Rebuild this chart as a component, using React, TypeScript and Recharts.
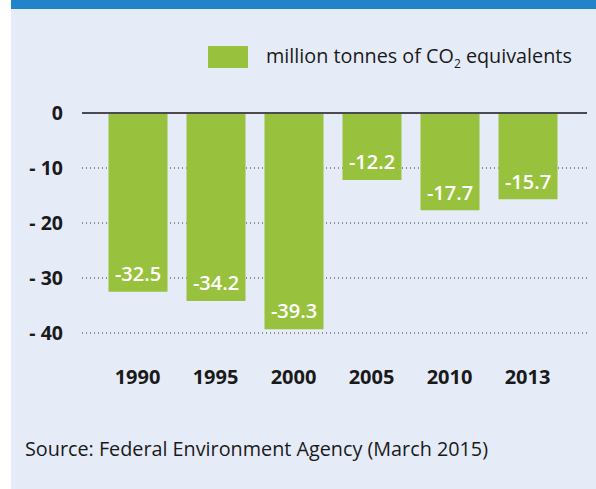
import React from "react";
import {
  BarChart,
  Bar,
  XAxis,
  YAxis,
  CartesianGrid,
  ReferenceLine,
  LabelList,
} from "recharts";

const years = ["1990", "1995", "2000", "2005", "2010", "2013"];
const values = [-32.5, -34.2, -39.3, -12.2, -17.7, -15.7];
const yTicks = [0, -10, -20, -30, -40];

const legendLabel = "million tonnes of CO";
const sourceText = "Source: Federal Environment Agency (March 2015)";

const GREEN = "#98c23d";
const BG = "#e5ebf7";
const BLUE = "#2183c9";
const TEXT = "#1a1a1a";
const FONT = "'Open Sans', 'Noto Sans', sans-serif";

const data = years.map((year, i) => ({ year, value: values[i] }));

const formatTick = (v: number) => (v === 0 ? "0" : `- ${Math.abs(v)}`);

const YTick = (props: any) => {
  const { x, y, payload } = props;
  return (
    <text
      x={x}
      y={y}
      dy="0.36em"
      textAnchor="end"
      fontFamily={FONT}
      fontWeight={700}
      fontSize={19.5}
      fill={TEXT}
    >
      {formatTick(payload.value)}
    </text>
  );
};

const XTick = (props: any) => {
  const { x, y, payload } = props;
  return (
    <text
      x={x}
      y={y + 51}
      textAnchor="middle"
      fontFamily={FONT}
      fontWeight={700}
      fontSize={20}
      fill={TEXT}
    >
      {payload.value}
    </text>
  );
};

const ValueLabel = (props: any) => {
  const { x, y, width, height, value } = props;
  const bottom = Math.max(y, y + height);
  return (
    <text
      x={x + width / 2}
      y={bottom - 18}
      dy="0.36em"
      textAnchor="middle"
      fontFamily={FONT}
      fontWeight={600}
      fontSize={20}
      fill="#ffffff"
    >
      {value.toFixed(1)}
    </text>
  );
};

export default function App() {
  return (
    <div
      style={{
        position: "absolute",
        left: 0,
        top: 0,
        width: 596,
        height: 489,
        background: "#ffffff",
        overflow: "hidden",
        fontFamily: FONT,
      }}
    >
      <div
        style={{
          position: "absolute",
          left: 11,
          top: 0,
          width: 585,
          height: 489,
          background: BG,
        }}
      />
      <div
        style={{
          position: "absolute",
          left: 11,
          top: 0,
          width: 585,
          height: 9,
          background: BLUE,
        }}
      />
      <div
        style={{
          position: "absolute",
          left: 208,
          top: 46,
          width: 40,
          height: 22,
          background: GREEN,
        }}
      />
      <div
        style={{
          position: "absolute",
          left: 266,
          top: 44,
          fontSize: 19.8,
          lineHeight: "24px",
          color: TEXT,
          whiteSpace: "nowrap",
        }}
      >
        {legendLabel}
        <sub style={{ fontSize: 12, lineHeight: 0 }}>2</sub> equivalents
      </div>
      <div style={{ position: "absolute", left: 0, top: 0 }}>
        <BarChart
          width={596}
          height={420}
          data={data}
          margin={{ top: 113, right: 9, left: 22, bottom: 27 }}
        >
          <CartesianGrid
            vertical={false}
            stroke="#333333"
            strokeDasharray="1 3"
            horizontalValues={yTicks}
          />
          <XAxis
            dataKey="year"
            height={60}
            axisLine={false}
            tickLine={false}
            tickSize={0}
            tickMargin={0}
            padding={{ left: 16.5, right: 20.5 }}
            tick={<XTick />}
            interval={0}
          />
          <YAxis
            width={60}
            domain={[-40, 0]}
            ticks={yTicks}
            axisLine={false}
            tickLine={false}
            tickSize={0}
            tickMargin={19}
            tick={<YTick />}
            interval={0}
          />
          <Bar dataKey="value" fill={GREEN} barSize={59} isAnimationActive={false}>
            <LabelList dataKey="value" content={<ValueLabel />} />
          </Bar>
          <ReferenceLine y={0} stroke="#4a4a52" strokeWidth={2} />
        </BarChart>
      </div>
      <div
        style={{
          position: "absolute",
          left: 25,
          top: 436,
          fontSize: 19.8,
          lineHeight: "26px",
          color: TEXT,
          whiteSpace: "nowrap",
        }}
      >
        {sourceText}
      </div>
    </div>
  );
}
